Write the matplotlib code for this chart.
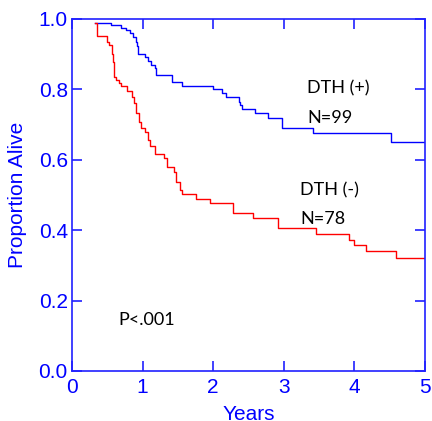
import matplotlib
matplotlib.use("Agg")
import matplotlib.pyplot as plt

# Kaplan-Meier style step data
years_pos = [0.32, 0.55, 0.69, 0.77, 0.82, 0.87, 0.90, 0.925, 0.94, 1.04, 1.07,
             1.12, 1.17, 1.19, 1.42, 1.56, 2.0, 2.12, 2.18, 2.36, 2.38, 2.41,
             2.59, 2.77, 2.97, 3.41, 4.52, 5.0]
alive_pos = [0.99, 0.982, 0.975, 0.969, 0.959, 0.95, 0.936, 0.922, 0.90, 0.893,
             0.881, 0.869, 0.86, 0.841, 0.822, 0.81, 0.80, 0.79, 0.777, 0.765,
             0.756, 0.743, 0.732, 0.718, 0.69, 0.675, 0.651, 0.651]

years_neg = [0.33, 0.35, 0.49, 0.52, 0.56, 0.585, 0.595, 0.63, 0.67, 0.70, 0.78,
             0.845, 0.88, 0.91, 0.95, 0.98, 1.04, 1.08, 1.11, 1.18, 1.30, 1.35,
             1.44, 1.48, 1.53, 1.56, 1.76, 1.96, 2.28, 2.56, 2.92, 3.46, 3.93,
             4.0, 4.17, 4.59, 5.0]
alive_neg = [0.99, 0.952, 0.936, 0.926, 0.90, 0.879, 0.836, 0.827, 0.819, 0.81,
             0.796, 0.779, 0.76, 0.732, 0.708, 0.69, 0.68, 0.656, 0.64, 0.616,
             0.604, 0.58, 0.564, 0.538, 0.514, 0.502, 0.489, 0.476, 0.45, 0.436,
             0.405, 0.389, 0.372, 0.358, 0.341, 0.32, 0.32]

xticks = [0, 1, 2, 3, 4, 5]
yticks = [0.0, 0.2, 0.4, 0.6, 0.8, 1.0]

axis_blue = "#2020ff"

fig = plt.figure(figsize=(4.32, 4.21), dpi=100)
ax = fig.add_axes([0.1667, 0.1188, 0.8171, 0.8361])

ax.step(years_pos, alive_pos, where="post", color="#0000ff", lw=1.0)
ax.step(years_neg, alive_neg, where="post", color="#ff0000", lw=1.0)

ax.set_xlim(0, 5)
ax.set_ylim(0, 1)
ax.set_xticks(xticks)
ax.set_yticks(yticks)
ax.set_xticklabels([str(t) for t in xticks])
ax.set_yticklabels(["%.1f" % t for t in yticks])

for sp in ax.spines.values():
    sp.set_color(axis_blue)
    sp.set_linewidth(1.2)
ax.tick_params(direction="in", length=7, width=1.2, color=axis_blue,
               labelcolor="#0000ff", labelsize=15, top=True, right=True, pad=3)
ax.tick_params(axis="x", pad=5)
for lab in ax.get_xticklabels() + ax.get_yticklabels():
    lab.set_family("Liberation Sans")

ax.set_xlabel("Years", color="#0000ff", fontsize=15, family="Liberation Sans", labelpad=6)
ax.set_ylabel("Proportion Alive", color="#0000ff", fontsize=15, family="Liberation Sans", labelpad=8)

txt = dict(color="black", fontsize=13, family="Lato", va="center", ha="left")
ax.text(3.33, 0.804, "DTH (+)", **txt)
ax.text(3.33, 0.72, "N=99", **txt)
ax.text(3.23, 0.514, "DTH (-)", **txt)
ax.text(3.23, 0.432, "N=78", **txt)
ax.text(0.65, 0.145, "P<.001", **txt)

fig.savefig("out.png", dpi=100)
